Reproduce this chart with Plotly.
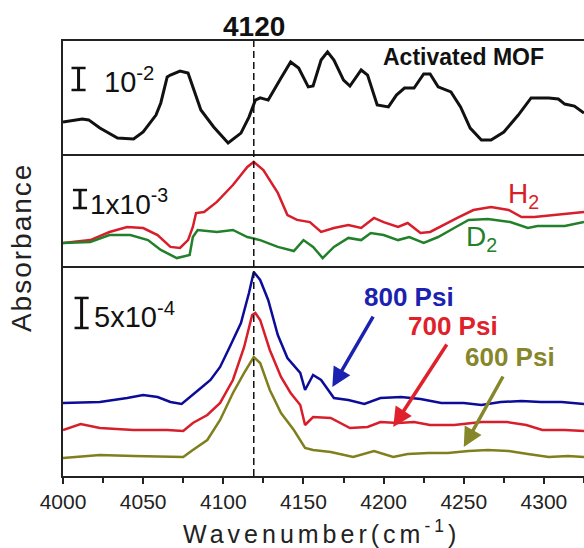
import plotly.graph_objects as go

# ---------------- data ----------------
# Top panel: activated MOF (units of 1e-2 absorbance, arbitrary offset)
mof_wn = [4000, 4012, 4016, 4023, 4034, 4044, 4050, 4058, 4061, 4065, 4067, 4073, 4078, 4081,
          4086, 4094, 4103, 4111, 4116, 4120, 4123, 4128, 4134, 4136, 4142, 4147, 4153, 4156,
          4161, 4165, 4169, 4175, 4179, 4186, 4190, 4196, 4203, 4208, 4213, 4219, 4225, 4229,
          4234, 4242, 4248, 4254, 4261, 4267, 4275, 4284, 4292, 4303, 4309, 4313, 4319, 4325]
mof_abs = [1.45, 1.59, 1.55, 1.18, 0.73, 0.68, 1.00, 1.77, 2.32, 3.50, 3.59, 3.77, 3.68, 3.05,
           2.00, 1.23, 0.50, 0.95, 1.68, 2.45, 2.55, 2.45, 3.23, 3.45, 4.18, 3.91, 3.05, 3.09,
           4.27, 4.64, 4.27, 3.36, 3.09, 3.82, 3.59, 2.23, 2.14, 2.68, 3.00, 3.00, 3.64, 3.64,
           3.05, 2.82, 2.14, 1.18, 0.64, 0.64, 1.00, 1.77, 2.55, 2.55, 2.50, 2.27, 2.18, 1.86]

# Middle panel: H2 and D2 (units of 1e-3 absorbance)
h2_wn = [4000, 4017, 4029, 4040, 4050, 4059, 4067, 4073, 4078, 4081, 4083, 4088, 4096, 4106,
         4115, 4119, 4125, 4134, 4140, 4146, 4154, 4161, 4169, 4178, 4186, 4194, 4200, 4209,
         4215, 4223, 4229, 4238, 4246, 4256, 4267, 4278, 4286, 4294, 4306, 4317, 4325]
h2_abs = [1.28, 1.44, 1.89, 2.17, 2.11, 1.72, 1.06, 1.00, 1.44, 2.17, 2.94, 3.00, 3.56, 4.50,
          5.50, 5.78, 5.33, 4.06, 2.83, 2.56, 2.44, 1.89, 2.11, 2.28, 2.11, 2.67, 2.44, 2.17,
          2.39, 1.83, 1.89, 2.28, 2.67, 3.11, 3.28, 3.11, 2.72, 2.72, 2.83, 2.89, 3.00]
d2_wn = [4000, 4017, 4029, 4042, 4053, 4061, 4071, 4079, 4081, 4084, 4096, 4106, 4115, 4123,
         4134, 4144, 4150, 4156, 4162, 4169, 4178, 4186, 4192, 4200, 4209, 4216, 4225, 4234,
         4244, 4253, 4265, 4279, 4290, 4296, 4313, 4325]
d2_abs = [1.28, 1.33, 1.72, 1.72, 1.44, 0.89, 0.44, 0.61, 1.61, 2.00, 1.89, 2.00, 1.61, 1.44,
          1.06, 0.83, 1.44, 1.06, 0.44, 1.06, 1.56, 1.44, 1.83, 1.72, 1.44, 1.61, 1.28, 1.61,
          2.11, 2.56, 2.61, 2.44, 2.11, 2.22, 2.22, 2.44]

# Bottom panel: pressures (units of 1e-4 absorbance, offset)
p800_wn = [4000, 4023, 4040, 4050, 4059, 4067, 4074, 4079, 4086, 4092, 4098, 4104, 4111, 4116,
           4119, 4123, 4128, 4134, 4140, 4148, 4151, 4156, 4161, 4169, 4178, 4188, 4198, 4211,
           4223, 4236, 4250, 4261, 4273, 4286, 4298, 4311, 4325]
p800_abs = [12.17, 12.33, 13.0, 13.5, 13.17, 12.33, 12.0, 13.17, 14.67, 16.0, 18.17, 21.5, 25.5,
            30.5, 34.0, 32.67, 29.33, 23.5, 19.67, 17.17, 14.33, 16.83, 16.0, 13.0, 12.67, 12.0,
            13.0, 13.17, 12.83, 12.17, 12.17, 11.83, 12.33, 12.5, 12.33, 12.33, 12.0]
p700_wn = [4000, 4011, 4023, 4044, 4065, 4075, 4081, 4090, 4098, 4106, 4113, 4118, 4120, 4123,
           4129, 4136, 4142, 4148, 4151, 4156, 4167, 4179, 4190, 4198, 4209, 4219, 4229, 4244,
           4261, 4277, 4289, 4299, 4313, 4325]
p700_abs = [7.67, 8.67, 8.0, 7.67, 7.67, 7.5, 8.83, 10.17, 12.17, 16.0, 21.5, 26.83, 27.17, 26.0,
            21.0, 16.5, 13.83, 11.83, 8.5, 9.83, 9.67, 8.0, 8.17, 9.0, 8.83, 9.0, 8.5, 8.5,
            9.0, 9.0, 8.5, 7.67, 7.67, 7.5]
p600_wn = [4000, 4023, 4044, 4065, 4075, 4081, 4090, 4098, 4106, 4113, 4119, 4123, 4129, 4136,
           4144, 4151, 4156, 4167, 4181, 4194, 4206, 4215, 4228, 4240, 4253, 4265, 4278, 4290,
           4303, 4315, 4325]
p600_abs = [3.0, 3.5, 3.33, 3.17, 3.17, 4.33, 6.0, 9.33, 13.83, 17.17, 19.83, 18.83, 14.33, 10.5,
            7.67, 4.67, 4.33, 4.0, 3.17, 4.17, 3.17, 3.67, 3.83, 3.83, 4.17, 4.33, 4.17, 3.67,
            3.17, 3.33, 3.17]

x_ticks = [4000, 4050, 4100, 4150, 4200, 4250, 4300]
peak_wn = 4119

# ---------------- styling ----------------
BLACK = "#111111"
C_RED = "#d81e2a"
C_GREEN = "#23802a"
C_BLUE = "#0c0c98"
C_OLIVE = "#7f7f1e"
FONT = "Liberation Sans, Arial, sans-serif"

fig = go.Figure()
fig.add_trace(go.Scatter(x=mof_wn, y=mof_abs, mode="lines", line=dict(color=BLACK, width=3),
                         xaxis="x", yaxis="y", showlegend=False))
fig.add_trace(go.Scatter(x=h2_wn, y=h2_abs, mode="lines", line=dict(color=C_RED, width=2.5),
                         xaxis="x2", yaxis="y2", showlegend=False))
fig.add_trace(go.Scatter(x=d2_wn, y=d2_abs, mode="lines", line=dict(color=C_GREEN, width=2.5),
                         xaxis="x2", yaxis="y2", showlegend=False))
fig.add_trace(go.Scatter(x=p800_wn, y=p800_abs, mode="lines", line=dict(color=C_BLUE, width=2.5),
                         xaxis="x3", yaxis="y3", showlegend=False))
fig.add_trace(go.Scatter(x=p700_wn, y=p700_abs, mode="lines", line=dict(color=C_RED, width=2.5),
                         xaxis="x3", yaxis="y3", showlegend=False))
fig.add_trace(go.Scatter(x=p600_wn, y=p600_abs, mode="lines", line=dict(color=C_OLIVE, width=2.5),
                         xaxis="x3", yaxis="y3", showlegend=False))

xr = [4000, 4325]
d_bot = [0, 0.4828]
d_mid = [0.4828, 0.7402]
d_top = [0.7402, 1.0]
hidden_x = dict(range=xr, showline=True, linecolor="#222", linewidth=1.6,
                showticklabels=False, ticks="", showgrid=False, zeroline=False)
hidden_y = dict(showline=True, linecolor="#222", linewidth=1.6, showticklabels=False,
                ticks="", showgrid=False, zeroline=False, fixedrange=True)

fig.update_layout(
    width=584, height=548,
    margin=dict(l=63, r=0, t=41, b=72),
    paper_bgcolor="white", plot_bgcolor="white",
    font=dict(family=FONT, color="#222"),
    xaxis=dict(hidden_x, anchor="y", domain=[0, 1], mirror=True),
    yaxis=dict(hidden_y, anchor="x", domain=d_top, range=[0, 5.136]),
    xaxis2=dict(hidden_x, anchor="y2", domain=[0, 1], matches="x", mirror=False),
    yaxis2=dict(hidden_y, anchor="x2", domain=d_mid, range=[0, 6.222]),
    xaxis3=dict(range=xr, anchor="y3", domain=[0, 1], matches="x", showline=True, mirror=False,
                linecolor="#222", linewidth=1.6, ticks="outside", ticklen=6, tickwidth=1.5,
                tickcolor="#222", tickvals=x_ticks, ticktext=[str(t) for t in x_ticks],
                tickfont=dict(size=21, family=FONT, color="#222"),
                minor=dict(dtick=25, tick0=4000, ticks="outside", ticklen=5, tickwidth=1.5,
                           tickcolor="#222"),
                showgrid=False, zeroline=False),
    yaxis3=dict(hidden_y, anchor="x3", domain=d_bot, range=[0, 35]),
)

# dashed reference line through all panels
fig.add_shape(type="line", xref="x", yref="paper", x0=peak_wn, x1=peak_wn, y0=0, y1=1,
              line=dict(color="#111", width=1.5, dash="7px,4px"))

# scale bars (I-shaped)
def scale_bar(xa, ya, xc, y0, y1, half=4.4):
    fig.add_shape(type="line", xref=xa, yref=ya, x0=xc, x1=xc, y0=y0, y1=y1,
                  line=dict(color="#111", width=3))
    for yy in (y0, y1):
        fig.add_shape(type="line", xref=xa, yref=ya, x0=xc - half, x1=xc + half, y0=yy, y1=yy,
                      line=dict(color="#111", width=2.5))

scale_bar("x", "y", 4009.7, 2.91, 3.91)
scale_bar("x2", "y2", 4010.6, 3.22, 4.22)
scale_bar("x3", "y3", 4011.6, 24.67, 29.67)

ann = []
ann.append(dict(x=4024.4, y=3.36, xref="x", yref="y", xanchor="left", yanchor="middle",
                text="10<sup>-2</sup>", showarrow=False, font=dict(size=29, color="#111")))
ann.append(dict(x=4015.6, y=3.55, xref="x2", yref="y2", xanchor="left", yanchor="middle",
                text="1x10<sup>-3</sup>", showarrow=False, font=dict(size=28, color="#111")))
ann.append(dict(x=4018, y=26.8, xref="x3", yref="y3", xanchor="left", yanchor="middle",
                text="5x10<sup>-4</sup>", showarrow=False, font=dict(size=29, color="#111")))
ann.append(dict(x=4250, y=4.41, xref="x", yref="y", xanchor="center", yanchor="middle",
                text="<b>Activated MOF</b>", showarrow=False,
                font=dict(size=23, color="#111")))
ann.append(dict(x=peak_wn, y=1.034, xref="x", yref="paper", xanchor="center", yanchor="middle",
                text="<b>4120</b>", showarrow=False, font=dict(size=28, color="#111")))
ann.append(dict(x=4287.5, y=3.94, xref="x2", yref="y2", xanchor="center", yanchor="middle",
                text="H<sub>2</sub>", showarrow=False, font=dict(size=28, color=C_RED)))
ann.append(dict(x=4261, y=1.5, xref="x2", yref="y2", xanchor="center", yanchor="middle",
                text="D<sub>2</sub>", showarrow=False, font=dict(size=28, color=C_GREEN)))

# pressure labels and arrows
for txt, col, tx, ty, hx, hy, sx, sy in [
    ("800 Psi", "#1c22b0", 4215.6, 29.83, 4168, 14.83, 4194, 26.83),
    ("700 Psi", "#e0202a", 4243, 25.0, 4206, 8.17, 4240, 22.17),
    ("600 Psi", "#86862a", 4279, 19.83, 4250, 4.83, 4275, 16.83),
]:
    ann.append(dict(x=tx, y=ty, xref="x3", yref="y3", xanchor="center", yanchor="middle",
                    text="<b>" + txt + "</b>", showarrow=False,
                    font=dict(size=26, color=col)))
    ann.append(dict(x=hx, y=hy, ax=sx, ay=sy, xref="x3", yref="y3", axref="x3", ayref="y3",
                    text="", showarrow=True, arrowhead=2, arrowsize=1.1, arrowwidth=3.5,
                    arrowcolor=col))

ann.append(dict(x=-0.0806, y=0.524, xref="paper", yref="paper", textangle=-90,
                xanchor="center", yanchor="middle", showarrow=False,
                text='<span style="letter-spacing:2px">Absorbance</span>',
                font=dict(size=28, color="#222")))
ann.append(dict(x=0.497, y=-0.128, xref="paper", yref="paper", xanchor="center",
                yanchor="middle", showarrow=False,
                text='<span style="letter-spacing:4px">Wavenumber(cm<sup>-1</sup>)</span>',
                font=dict(size=25, color="#222")))
fig.update_layout(annotations=ann)

fig.write_html("out.html", config={"displayModeBar": False},
               post_script="document.body.style.margin='0px';document.body.style.padding='0px';")
